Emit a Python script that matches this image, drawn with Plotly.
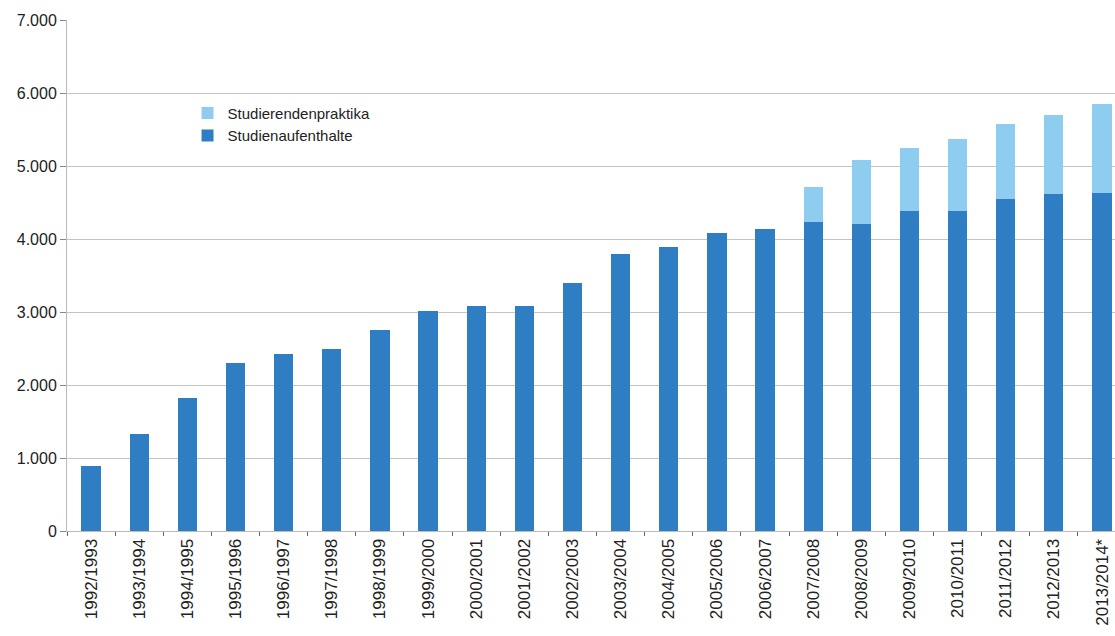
import plotly.graph_objects as go

categories = ["1992/1993", "1993/1994", "1994/1995", "1995/1996", "1996/1997", "1997/1998",
              "1998/1999", "1999/2000", "2000/2001", "2001/2002", "2002/2003", "2003/2004",
              "2004/2005", "2005/2006", "2006/2007", "2007/2008", "2008/2009", "2009/2010",
              "2010/2011", "2011/2012", "2012/2013", "2013/2014*"]

studienaufenthalte = [890, 1330, 1820, 2300, 2420, 2490, 2750, 3010, 3080, 3080, 3400,
                      3790, 3890, 4080, 4140, 4230, 4200, 4380, 4380, 4550, 4620, 4630]

studierendenpraktika = [0, 0, 0, 0, 0, 0, 0, 0, 0, 0, 0,
                        0, 0, 0, 0, 480, 880, 870, 990, 1030, 1080, 1220]

y_ticks = [0, 1000, 2000, 3000, 4000, 5000, 6000, 7000]

dark = "#2f7dc3"
light = "#8fcdf0"

fig = go.Figure()
fig.add_trace(go.Bar(x=categories, y=studienaufenthalte, name="Studienaufenthalte",
                     marker=dict(color=dark, line=dict(width=0))))
fig.add_trace(go.Bar(x=categories, y=studierendenpraktika, name="Studierendenpraktika",
                     marker=dict(color=light, line=dict(width=0))))

font_family = "Liberation Sans Narrow, Liberation Sans, Arial, sans-serif"

fig.update_layout(
    width=1115, height=636,
    barmode="stack",
    bargap=0.6,
    separators=",.",
    paper_bgcolor="white",
    plot_bgcolor="white",
    margin=dict(l=67, r=0, t=20, b=105, autoexpand=False),
    font=dict(family=font_family, size=15, color="#222222"),
    showlegend=True,
    legend=dict(x=0.115, y=0.85, xanchor="left", yanchor="top",
                traceorder="reversed", bgcolor="rgba(0,0,0,0)",
                font=dict(size=15, family=font_family, color="#222222"),
                itemwidth=30, tracegroupgap=0),
)

fig.update_xaxes(
    type="category",
    range=[-0.5, 21.27],
    tickangle=-90,
    tickfont=dict(size=17, family=font_family),
    ticks="outside", ticklen=4, tickcolor="#666666",
    tickson="boundaries",
    showline=True, linecolor="#bbbbbb", linewidth=1,
    showgrid=False,
)

fig.update_yaxes(
    range=[0, 7000],
    tickvals=y_ticks,
    tickformat=",d",
    tickfont=dict(size=16, family=font_family),
    ticks="outside", ticklen=6, tickcolor="#888888",
    showline=True, linecolor="#bbbbbb", linewidth=1,
    showgrid=True, gridcolor="#c4c4c4", gridwidth=1,
    zeroline=False,
)

fig.write_html("out.html")
